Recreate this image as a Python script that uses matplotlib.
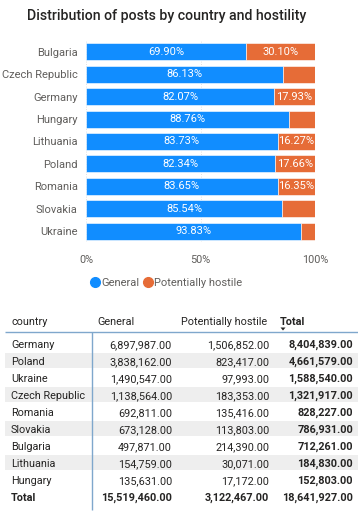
import matplotlib
matplotlib.use("Agg")
import matplotlib.pyplot as plt
from matplotlib.lines import Line2D
from matplotlib.patches import Rectangle, Polygon

plt.rcParams['font.family'] = ['Roboto', 'DejaVu Sans']

# ---------------- data ----------------
countries = ["Bulgaria", "Czech Republic", "Germany", "Hungary", "Lithuania",
             "Poland", "Romania", "Slovakia", "Ukraine"]
general_pct = [69.90, 86.13, 82.07, 88.76, 83.73, 82.34, 83.65, 85.54, 93.83]
hostile_pct = [30.10, 13.87, 17.93, 11.24, 16.27, 17.66, 16.35, 14.46, 6.17]
x_ticks = [0, 50, 100]
x_tick_labels = ["0%", "50%", "100%"]
series_names = ["General", "Potentially hostile"]

table_columns = ["country", "General", "Potentially hostile", "Total"]
table_countries = ["Germany", "Poland", "Ukraine", "Czech Republic", "Romania",
                   "Slovakia", "Bulgaria", "Lithuania", "Hungary"]
table_general = [6897987, 3838162, 1490547, 1138564, 692811, 673128, 497871, 154759, 135631]
table_hostile = [1506852, 823417, 97993, 183353, 135416, 113803, 214390, 30071, 17172]
table_total = [8404839, 4661579, 1588540, 1321917, 828227, 786931, 712261, 184830, 152803]
total_label = "Total"
total_general = 15519460
total_hostile = 3122467
total_all = 18641927

title = "Distribution of posts by country and hostility"

# ---------------- style ----------------
BLUE = "#118DFF"
ORANGE = "#E66C37"
TEXT = "#252423"
GREY = "#605E5C"
W, H = 358, 511

fig = plt.figure(figsize=(W / 100, H / 100), dpi=100)
fig.patch.set_facecolor("white")

# overlay axes in pixel coordinates (for title, table)
ov = fig.add_axes([0, 0, 1, 1])
ov.set_xlim(0, W)
ov.set_ylim(H, 0)
ov.axis("off")

ov.text(167, 20, title, ha="center", va="baseline", fontsize=10.2,
        color=TEXT, fontweight="medium")

# ---------------- bar chart ----------------
top_px, bot_px = 40.8, 242.2
left_px, right_px = 86, 315
ax = fig.add_axes([left_px / W, 1 - bot_px / H, (right_px - left_px) / W, (bot_px - top_px) / H])
ypos = list(range(len(countries)))
bh = 0.76
ax.barh(ypos, general_pct, height=bh, color=BLUE, edgecolor="white", linewidth=0.4, zorder=2)
ax.barh(ypos, hostile_pct, left=general_pct, height=bh, color=ORANGE,
        edgecolor="white", linewidth=0.4, zorder=2)
for i in ypos:
    g = general_pct[i]
    h = hostile_pct[i]
    ax.text(g / 2, i, f"{g:.2f}%", ha="center", va="center", color="white", fontsize=8, zorder=3)
    if h >= 15:
        ax.text(g + h / 2, i, f"{h:.2f}%", ha="center", va="center", color="white", fontsize=8, zorder=3)
ax.set_ylim(len(countries) - 0.5, -0.5)
ax.set_xlim(0, 100)
ax.set_yticks(ypos)
ax.set_yticklabels(countries, fontsize=8, color=GREY)
ax.set_xticks(x_ticks)
ax.set_xticklabels(x_tick_labels, fontsize=7.8, color=GREY)
ax.tick_params(axis="both", length=0)
ax.tick_params(axis="y", pad=6)
ax.tick_params(axis="x", pad=9)
for s in ax.spines.values():
    s.set_visible(False)
ax.xaxis.grid(True, color="#d8d8d8", linestyle=(0, (1, 2)), linewidth=0.6, zorder=0)
ax.set_axisbelow(True)

handles = [Line2D([], [], marker="o", linestyle="", markersize=7, color=c) for c in (BLUE, ORANGE)]
fig.legend(handles, series_names, loc="center", bbox_to_anchor=(166 / W, 1 - 283 / H),
           ncol=2, frameon=False, fontsize=8, handletextpad=0.05, columnspacing=0.3,
           labelcolor=GREY, borderaxespad=0, handlelength=1.0)

# ---------------- table ----------------
FS = 7.8
header_y = 321
row0 = 344
step = 17
BASE = 3.8  # baseline offset below row centre
col_left = [11, 97, 181, 280]
col_right = [None, 172, 269, 353]
line_col = "#7FA7CC"

for j, name in enumerate(table_columns):
    ov.text(col_left[j], header_y + BASE, name, ha="left", va="baseline", fontsize=FS, color=TEXT,
            fontweight="bold" if name == "Total" else "normal")
ov.add_patch(Polygon([[280.5, 327.5], [285.5, 327.5], [283, 330.5]], closed=True,
                     color=TEXT, lw=0))

for i, c in enumerate(table_countries):
    y = row0 + i * step
    if i % 2 == 1:
        ov.add_patch(Rectangle((5, y - 7.5), W - 5, 15, color="#EEEEEE", lw=0, zorder=0))
    yb = y + BASE
    ov.text(col_left[0], yb, c, ha="left", va="baseline", fontsize=FS, color=TEXT)
    ov.text(col_right[1], yb, f"{table_general[i]:,.2f}", ha="right", va="baseline", fontsize=FS, color=TEXT)
    ov.text(col_right[2], yb, f"{table_hostile[i]:,.2f}", ha="right", va="baseline", fontsize=FS, color=TEXT)
    ov.text(col_right[3], yb, f"{table_total[i]:,.2f}", ha="right", va="baseline", fontsize=FS,
            color=TEXT, fontweight="bold")

yt = row0 + len(table_countries) * step + BASE
ov.text(col_left[0], yt, total_label, ha="left", va="baseline", fontsize=FS, color=TEXT, fontweight="bold")
ov.text(col_right[1], yt, f"{total_general:,.2f}", ha="right", va="baseline", fontsize=FS, color=TEXT, fontweight="bold")
ov.text(col_right[2], yt, f"{total_hostile:,.2f}", ha="right", va="baseline", fontsize=FS, color=TEXT, fontweight="bold")
ov.text(col_right[3], yt, f"{total_all:,.2f}", ha="right", va="baseline", fontsize=FS, color=TEXT, fontweight="bold")

ov.plot([5, W], [332, 332], color=line_col, lw=1.0, solid_capstyle="butt")
ov.plot([92, 92], [332, 510], color=line_col, lw=1.0, solid_capstyle="butt")

fig.savefig("out.png", dpi=100, facecolor="white")
